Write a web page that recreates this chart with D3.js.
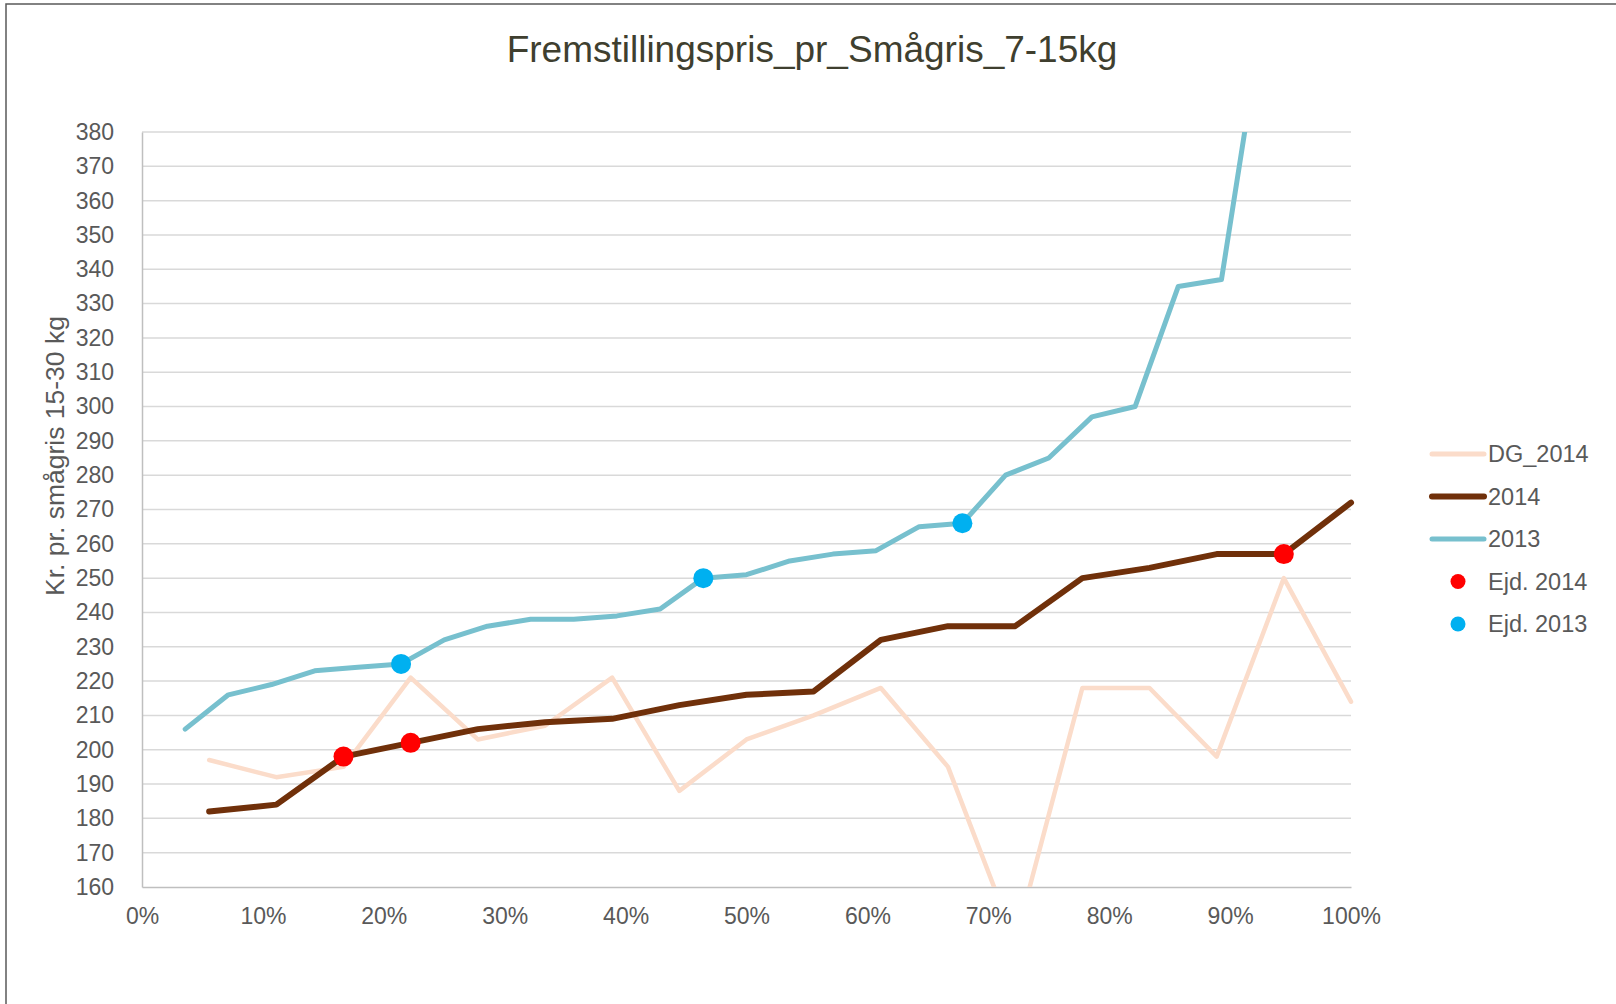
<!DOCTYPE html>
<html>
<head>
<meta charset="utf-8">
<script src="https://cdn.jsdelivr.net/npm/d3@7"></script>
<style>
  body { margin: 0; background: #fff; }
  text { font-family: "Liberation Sans", Arial, sans-serif; }
</style>
</head>
<body>
<svg id="chart" width="1616" height="1004"></svg>
<script>
// 2013: 28 farms, 2014 / DG_2014: 18 farms (x = rank / count)
const values2013 = [206, 216, 219, 223, 224, 225, 232, 236, 238, 238, 239, 241, 250, 251,
  255, 257, 258, 265, 266, 280, 285, 297, 300, 335, 337, 417, 450, 520];
const values2014 = [182, 184, 198, 202, 206, 208, 209, 213, 216, 217, 232, 236, 236, 250,
  253, 257, 257, 272];
const valuesDG2014 = [197, 192, 195, 221, 203, 207, 221, 188, 203, 210, 218, 195, 144, 218,
  218, 198, 250, 214];
const ejd2014Idx = [3, 4, 17];   // 1-based rank in 2014
const ejd2013Idx = [6, 13, 19];  // 1-based rank in 2013
const yTicks = d3.range(160, 381, 10);
const xTicks = d3.range(0, 1.0001, 0.1);
const legendItems = [
  { name: "DG_2014", type: "line", color: "#fbdcca" },
  { name: "2014", type: "line", color: "#70300a" },
  { name: "2013", type: "line", color: "#77c0ce" },
  { name: "Ejd. 2014", type: "dot", color: "#ff0000" },
  { name: "Ejd. 2013", type: "dot", color: "#00b0f0" }
];

const toPoints = (vals) => vals.map((v, i) => ({ x: (i + 1) / vals.length, y: v }));
const s2013 = toPoints(values2013);
const s2014 = toPoints(values2014);
const sDG = toPoints(valuesDG2014);

const margin = { top: 132, right: 265, bottom: 117, left: 142 };
const W = 1616, H = 1004;
const width = W - margin.left - margin.right;
const height = H - margin.top - margin.bottom;

const svg = d3.select("#chart");

// outer frame (only top / left visible in the picture)
svg.append("rect")
  .attr("x", 6).attr("y", 4)
  .attr("width", W).attr("height", H)
  .attr("fill", "none")
  .attr("stroke", "#595959")
  .attr("stroke-width", 1.5);

svg.append("text")
  .attr("x", 812)
  .attr("y", 61.5)
  .attr("text-anchor", "middle")
  .style("font-size", "37px")
  .style("fill", "#3f3f2f")
  .text("Fremstillingspris_pr_Smågris_7-15kg");

const g = svg.append("g").attr("transform", `translate(${margin.left},${margin.top})`);

const xScale = d3.scaleLinear().domain([0, 1]).range([0, width]);
const yScale = d3.scaleLinear().domain([160, 380]).range([height, 0]);

// gridlines
g.append("g")
  .selectAll("line")
  .data(yTicks.filter((d) => d > 160))
  .enter()
  .append("line")
  .attr("x1", 0).attr("x2", width)
  .attr("y1", (d) => yScale(d)).attr("y2", (d) => yScale(d))
  .attr("stroke", "#d9d9d9")
  .attr("stroke-width", 1.5);

// y axis
const yAxis = g.append("g")
  .call(d3.axisLeft(yScale).tickValues(yTicks).tickSize(0).tickPadding(28));
yAxis.select(".domain").attr("stroke", "#bfbfbf").attr("stroke-width", 1.5);
yAxis.selectAll("text").style("font-size", "23px").style("fill", "#595959");

// x axis
const xAxis = g.append("g")
  .attr("transform", `translate(0,${height})`)
  .call(d3.axisBottom(xScale).tickValues(xTicks).tickFormat(d3.format(".0%")).tickSize(0).tickPadding(21));
xAxis.select(".domain").attr("stroke", "#bfbfbf").attr("stroke-width", 1.5);
xAxis.selectAll("text").style("font-size", "23px").style("fill", "#595959");

// y axis title
g.append("text")
  .attr("transform", "rotate(-90)")
  .attr("x", -(456 - margin.top))
  .attr("y", 54 - margin.left + 9.5)
  .attr("text-anchor", "middle")
  .style("font-size", "26.5px")
  .style("fill", "#595959")
  .text("Kr. pr. smågris 15-30 kg");

g.append("clipPath")
  .attr("id", "chart-clip")
  .append("rect")
  .attr("x", -20).attr("y", 0)
  .attr("width", width + 40).attr("height", height);

const line = d3.line().x((d) => xScale(d.x)).y((d) => yScale(d.y));

const plot = g.append("g").attr("clip-path", "url(#chart-clip)");

plot.append("path").datum(sDG)
  .attr("d", line).attr("fill", "none")
  .attr("stroke", "#fbdcca").attr("stroke-width", 4.5)
  .attr("stroke-linejoin", "round").attr("stroke-linecap", "round");

plot.append("path").datum(s2014)
  .attr("d", line).attr("fill", "none")
  .attr("stroke", "#70300a").attr("stroke-width", 6)
  .attr("stroke-linejoin", "round").attr("stroke-linecap", "round");

plot.append("path").datum(s2013)
  .attr("d", line).attr("fill", "none")
  .attr("stroke", "#77c0ce").attr("stroke-width", 5)
  .attr("stroke-linejoin", "round").attr("stroke-linecap", "round");

plot.selectAll("circle.e14")
  .data(ejd2014Idx.map((i) => s2014[i - 1]))
  .enter().append("circle")
  .attr("class", "e14")
  .attr("cx", (d) => xScale(d.x)).attr("cy", (d) => yScale(d.y))
  .attr("r", 10).attr("fill", "#ff0000");

plot.selectAll("circle.e13")
  .data(ejd2013Idx.map((i) => s2013[i - 1]))
  .enter().append("circle")
  .attr("class", "e13")
  .attr("cx", (d) => xScale(d.x)).attr("cy", (d) => yScale(d.y))
  .attr("r", 10).attr("fill", "#00b0f0");

// legend
const legend = svg.append("g").attr("transform", "translate(1430,454)");
const rows = legend.selectAll("g")
  .data(legendItems)
  .enter().append("g")
  .attr("transform", (d, i) => `translate(0,${i * 42.5})`);

rows.filter((d) => d.type === "line").append("line")
  .attr("x1", 2).attr("x2", 54).attr("y1", 0).attr("y2", 0)
  .attr("stroke", (d) => d.color).attr("stroke-width", (d) => d.name === "2014" ? 6 : 5)
  .attr("stroke-linecap", "round");

rows.filter((d) => d.type === "dot").append("circle")
  .attr("cx", 28).attr("cy", 0).attr("r", 7.5)
  .attr("fill", (d) => d.color);

rows.append("text")
  .attr("x", 58).attr("y", 0).attr("dy", "0.35em")
  .style("font-size", "23.5px")
  .style("fill", "#595959")
  .text((d) => d.name);
</script>
</body>
</html>
